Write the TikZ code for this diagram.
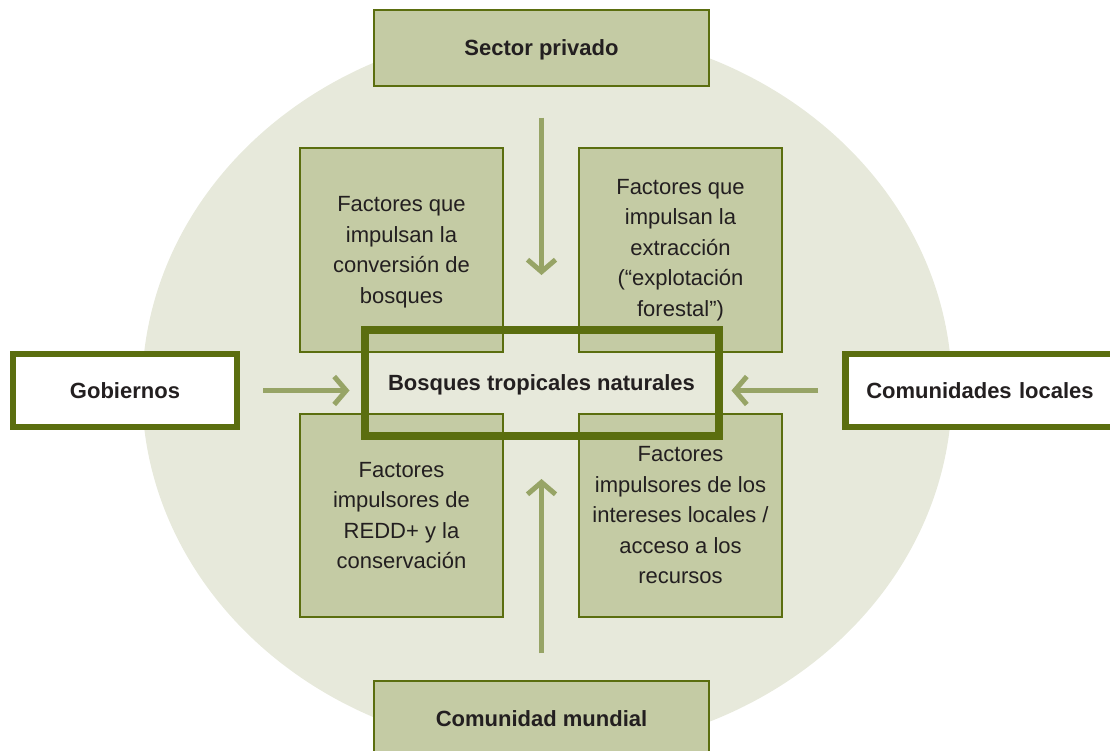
\documentclass[tikz,border=0pt]{standalone}
\usepackage{fontspec}
\setmainfont{Liberation Sans}
\usepackage{xcolor}
\usetikzlibrary{arrows.meta}
\definecolor{salvia}{HTML}{C4CBA4}
\definecolor{oliva}{HTML}{5B6E0F}
\definecolor{fondo}{HTML}{E7E9DB}
\definecolor{verdeflecha}{HTML}{97A466}
\definecolor{texto}{HTML}{231F20}
\tikzset{
  factor/.style={draw=oliva,line width=1.3pt,fill=salvia,minimum width=203pt,minimum height=204pt,
    inner sep=0pt,align=center,text=texto,font=\fontsize{22}{30.5}\selectfont},
  actor/.style={draw=oliva,line width=1.3pt,fill=salvia,minimum width=335pt,minimum height=76pt,
    text depth=0pt,text=texto,font=\bfseries\fontsize{22}{30}\selectfont},
  actorb/.style={draw=oliva,line width=6.5pt,fill=white,minimum height=73pt,
    text depth=0pt,text=texto,font=\bfseries\fontsize{22}{30}\selectfont},
  flecha/.style={draw=verdeflecha,line width=5pt,-{Straight Barb[length=12pt,width=28pt]}}
}
\begin{document}
\begin{tikzpicture}[x=1pt,y=-1pt]
\useasboundingbox (0,0) rectangle (1110,751);
\clip (0,0) rectangle (1110,751);
\fill[fondo] (547,390) ellipse [x radius=405pt, y radius=362pt];

\node[factor,text depth=0pt] (conversion) at (401.5,250) {Factores que\\impulsan la\\conversión de\\bosques};
\node[factor] (extraccion) at (680.5,250) {Factores que\\impulsan la\\extracción\\(“explotación\\forestal”)};
\node[factor,minimum height=203pt] (redd) at (401.5,515.5) {Factores\\impulsores de\\REDD+ y la\\conservación};
\node[factor,minimum height=203pt] (intereses) at (680.5,515.5) {Factores\\impulsores de los\\intereses locales /\\acceso a los\\recursos};

\node[draw=oliva,line width=8pt,minimum width=354pt,minimum height=106pt,text depth=0pt,text=texto,
  font=\bfseries\fontsize{22}{30}\selectfont] (bosques) at (541.5,383) {Bosques tropicales naturales};

\node[actor] (sector) at (541.5,48) {Sector privado};
\node[actor] (mundial) at (541.5,719) {Comunidad mundial};
\node[actorb,minimum width=224pt] (gob) at (125,390.5) {Gobiernos};
\node[actorb,anchor=west,text width=250pt,inner xsep=21pt,align=left] (locales) at (842,390.5) {Comunidades locales};

\draw[flecha] ([yshift=-31pt]sector.south) -- ([yshift=51pt]bosques.north);
\draw[flecha] ([yshift=27pt]mundial.north) -- ([yshift=-39pt]bosques.south);
\draw[flecha] ([xshift=23pt]gob.east) -- ([xshift=-11pt]bosques.west |- gob.east);
\draw[flecha] ([xshift=-24pt]locales.west) -- ([xshift=9pt]bosques.east |- locales.west);
\end{tikzpicture}
\end{document}
